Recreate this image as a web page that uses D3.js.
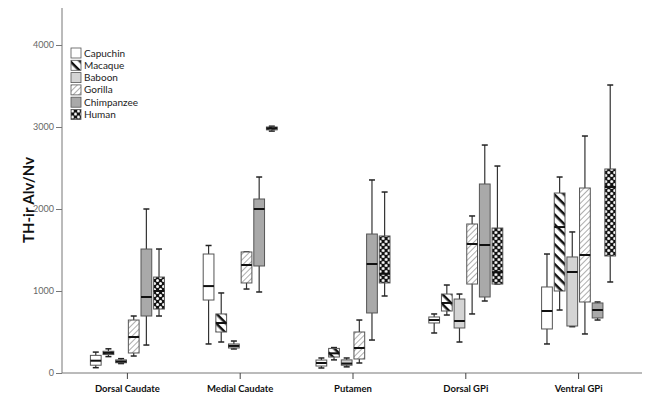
<!DOCTYPE html>
<html>
<head>
<meta charset="utf-8">
<script src="https://cdn.jsdelivr.net/npm/d3@7"></script>
<style>
  body { margin: 0; background: #fff; }
  text { font-family: Lato, "DejaVu Sans", sans-serif; }
</style>
</head>
<body>
<div id="chart"></div>
<script>
// regions on the x axis
var regions = ["Dorsal Caudate", "Medial Caudate", "Putamen", "Dorsal GPi", "Ventral GPi"];
var species = ["Capuchin", "Macaque", "Baboon", "Gorilla", "Chimpanzee", "Human"];
var yTicks = [0, 1000, 2000, 3000, 4000];

// [min, q1, median, q3, max] per region
var capuchin = [[65, 95, 150, 215, 255], [354, 890, 1060, 1451, 1555], [61, 85, 122, 158, 183], [488, 610, 646, 683, 720], [354, 537, 756, 1049, 1451]];
var macaque = [[200, 225, 245, 265, 295], [378, 500, 610, 720, 976], [160, 195, 240, 300, 310], [707, 756, 854, 963, 1073], [768, 1000, 1780, 2195, 2390]];
var baboon = [[115, 125, 140, 160, 175], [293, 305, 330, 354, 390], [75, 95, 115, 160, 183], [378, 549, 634, 902, 963], [565, 573, 1232, 1415, 1720]];
var gorilla = [[207, 244, 439, 646, 695], [1024, 1098, 1317, 1476, 1476], [122, 171, 305, 500, 646], [720, 1085, 1573, 1817, 1915], [476, 866, 1439, 2256, 2890]];
var chimpanzee = [[341, 695, 927, 1512, 2000], [988, 1305, 2000, 2122, 2390], [402, 732, 1329, 1695, 2354], [878, 927, 1561, 2305, 2780], [646, 671, 768, 854, 866]];
var human = [[695, 780, 1000, 1170, 1512], [2950, 2965, 2985, 3000, 3010], [939, 1098, 1210, 1671, 2207], [1085, 1085, 1230, 1768, 2524], [1110, 1427, 2268, 2488, 3512]];

var seriesData = [capuchin, macaque, baboon, gorilla, chimpanzee, human];
var fills = ["#ffffff", "url(#macaque)", "#d4d4d4", "url(#gorilla)", "#a9a9a9", "url(#human)"];

var width = 654, height = 400;
var svg = d3.select("#chart").append("svg")
    .attr("width", width)
    .attr("height", height);

// patterns
var defs = svg.append("defs");
var pm = defs.append("pattern").attr("id", "macaque").attr("patternUnits", "userSpaceOnUse")
    .attr("width", 7).attr("height", 7).attr("patternTransform", "rotate(45)");
pm.append("rect").attr("width", 7).attr("height", 7).attr("fill", "#fff");
pm.append("line").attr("x1", 0).attr("y1", 0).attr("x2", 7).attr("y2", 0)
    .attr("stroke", "#111").attr("stroke-width", 5);

var pg = defs.append("pattern").attr("id", "gorilla").attr("patternUnits", "userSpaceOnUse")
    .attr("width", 4).attr("height", 4).attr("patternTransform", "rotate(-45)");
pg.append("rect").attr("width", 4).attr("height", 4).attr("fill", "#fff");
pg.append("line").attr("x1", 0).attr("y1", 0).attr("x2", 4).attr("y2", 0)
    .attr("stroke", "#777").attr("stroke-width", 1.2);

var ph = defs.append("pattern").attr("id", "human").attr("patternUnits", "userSpaceOnUse")
    .attr("width", 6).attr("height", 6);
ph.append("rect").attr("width", 6).attr("height", 6).attr("fill", "#111");
ph.append("circle").attr("cx", 1.5).attr("cy", 1.5).attr("r", 1.5).attr("fill", "#fff");
ph.append("circle").attr("cx", 4.5).attr("cy", 4.5).attr("r", 1.5).attr("fill", "#fff");

// scales
var x = d3.scaleBand().domain(regions).range([71, 635]);
var xs = d3.scaleBand().domain(species).range([-37, 37]).paddingInner(0.15).paddingOuter(0);
var y = d3.scaleLinear().domain([0, 4000]).range([373, 45]);

// axes
var yAxis = svg.append("g")
    .attr("transform", "translate(62,0)")
    .call(d3.axisLeft(y).tickValues(yTicks).tickSize(6).tickPadding(2).tickFormat(d3.format("d")));
yAxis.select(".domain").attr("d", "M0," + y(0) + "V8").attr("stroke", "#777");
yAxis.selectAll(".tick line").attr("stroke", "#777");
yAxis.selectAll(".tick text").attr("fill", "#666").attr("font-size", 9);

var xAxis = svg.append("g")
    .attr("transform", "translate(0," + y(0) + ")")
    .call(d3.axisBottom(x).tickSize(6).tickPadding(6));
xAxis.select(".domain").attr("d", "M62,0H642").attr("stroke", "#777");
xAxis.selectAll(".tick line").attr("stroke", "#444");
xAxis.selectAll(".tick text").attr("fill", "#111").attr("font-size", 9.5).attr("font-weight", "bold");

svg.append("text")
    .attr("transform", "translate(34," + 200 + ") rotate(-90)")
    .attr("text-anchor", "middle")
    .attr("font-size", 15)
    .attr("font-weight", "bold")
    .attr("fill", "#111")
    .text("TH-ir Alv/Nv");

// boxes
var capW = 6;
species.forEach(function (sp, si) {
    var g = svg.append("g");
    var items = g.selectAll("g.box")
        .data(seriesData[si].map(function (v, ri) { return { region: regions[ri], v: v }; }))
        .enter().append("g")
        .attr("transform", function (d) {
            return "translate(" + (x(d.region) + x.bandwidth() / 2 + xs(sp) + xs.bandwidth() / 2) + ",0)";
        });
    var bw = xs.bandwidth();
    items.append("line").attr("x1", 0).attr("x2", 0)
        .attr("y1", function (d) { return y(d.v[4]); })
        .attr("y2", function (d) { return y(d.v[0]); })
        .attr("stroke", "#333").attr("stroke-width", 1.2);
    items.append("line").attr("x1", -capW / 2).attr("x2", capW / 2)
        .attr("y1", function (d) { return y(d.v[4]); }).attr("y2", function (d) { return y(d.v[4]); })
        .attr("stroke", "#222").attr("stroke-width", 1.5);
    items.append("line").attr("x1", -capW / 2).attr("x2", capW / 2)
        .attr("y1", function (d) { return y(d.v[0]); }).attr("y2", function (d) { return y(d.v[0]); })
        .attr("stroke", "#222").attr("stroke-width", 1.5);
    items.append("rect")
        .attr("x", -bw / 2).attr("width", bw)
        .attr("y", function (d) { return y(d.v[3]); })
        .attr("height", function (d) { return Math.max(1, y(d.v[1]) - y(d.v[3])); })
        .attr("fill", fills[si])
        .attr("stroke", "#555").attr("stroke-width", 1);
    items.append("line").attr("x1", -bw / 2).attr("x2", bw / 2)
        .attr("y1", function (d) { return y(d.v[2]); }).attr("y2", function (d) { return y(d.v[2]); })
        .attr("stroke", "#111").attr("stroke-width", 2);
});

// legend
var legend = svg.append("g").attr("transform", "translate(71,48)");
var li = legend.selectAll("g").data(species).enter().append("g")
    .attr("transform", function (d, i) { return "translate(0," + i * 12.3 + ")"; });
li.append("rect").attr("width", 10).attr("height", 10)
    .attr("fill", function (d, i) { return fills[i]; })
    .attr("stroke", "#555").attr("stroke-width", 0.8);
li.append("text").attr("x", 13).attr("y", 8.5)
    .attr("font-size", 10).attr("fill", "#222")
    .text(function (d) { return d; });
</script>
</body>
</html>
